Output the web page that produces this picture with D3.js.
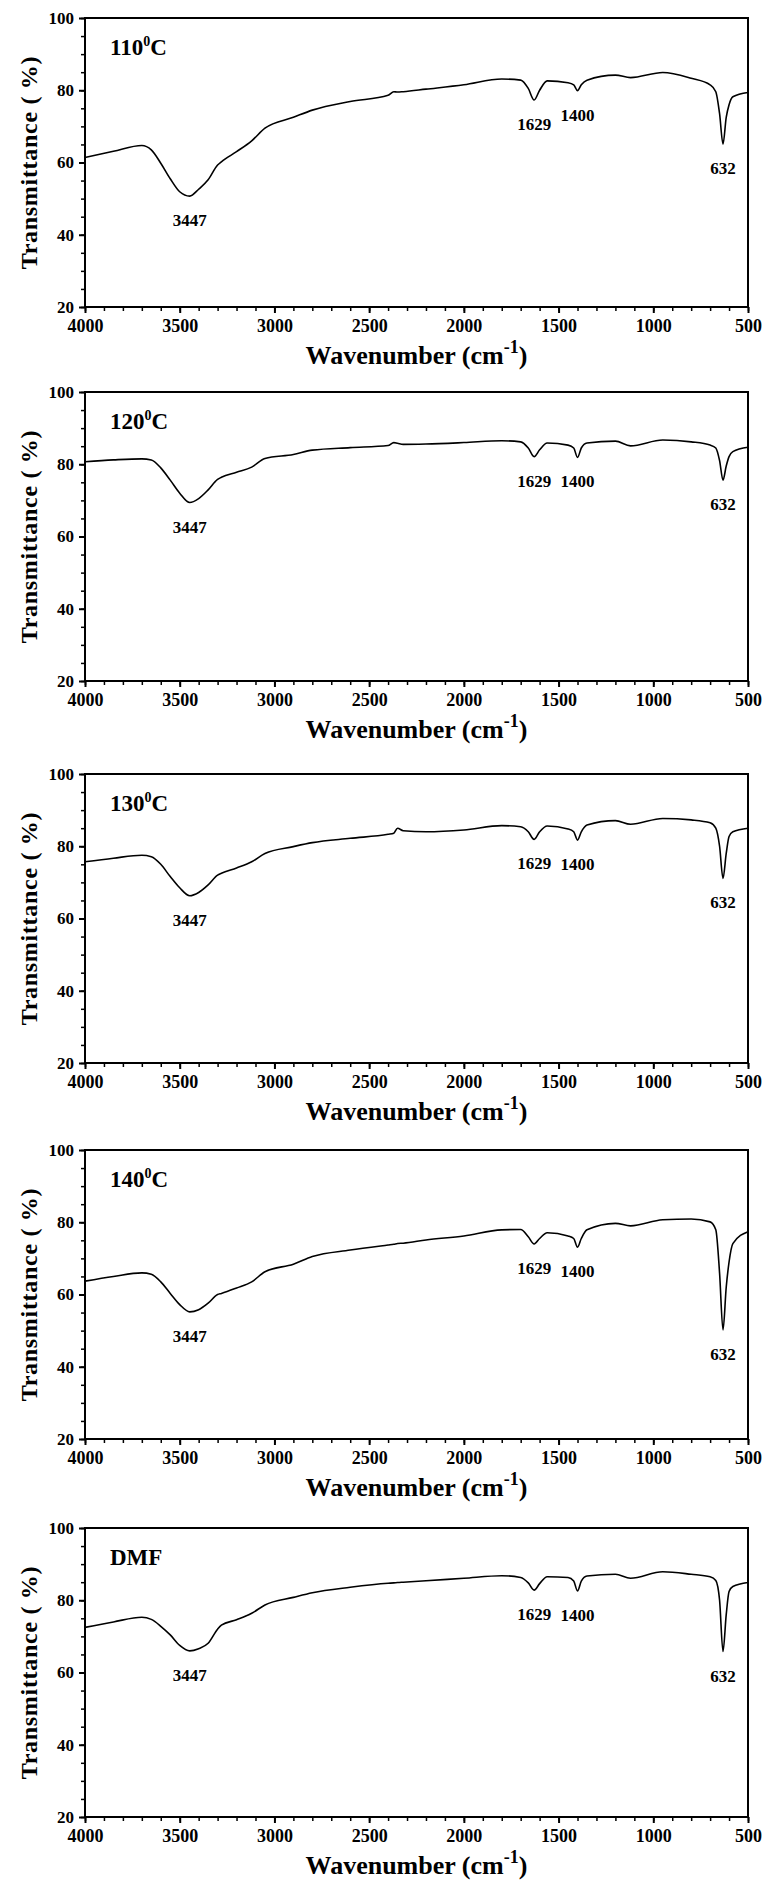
<!DOCTYPE html>
<html>
<head>
<meta charset="utf-8">
<script src="https://cdn.jsdelivr.net/npm/d3@7"></script>
<style>
  body { margin: 0; background: #fff; }
  svg { display: block; }
  text { font-family: "Liberation Serif", "Times New Roman", serif; font-weight: bold; fill: #000; }
</style>
</head>
<body>
<script>
// sample names, one per panel
var panelNames = ["110", "120", "130", "140", "DMF"];

// wavenumber grid (cm-1) the spectra were read at
var wavenumbers = [4000, 3850, 3700, 3650, 3600, 3550, 3500, 3447, 3400, 3350, 3300, 3280, 3200, 3120, 3050,
  2900, 2800, 2600, 2400, 2370, 2350, 2320, 2200, 2000, 1800, 1700, 1660, 1629, 1600, 1560, 1450, 1420,
  1400, 1380, 1350, 1200, 1120, 950, 800, 700, 670, 650, 632, 615, 600, 580, 500];

// transmittance (%) for each sample
var t110 = [61.4, 63.1, 64.7, 63.5, 59.8, 55.5, 51.9, 50.7, 52.6, 55.2, 59.3, 60.2, 63, 66, 69.5,
  72.5, 74.5, 76.9, 78.6, 79.6, 79.5, 79.6, 80.3, 81.5, 83.1, 82.8, 80.5, 77.3, 80, 82.6, 82.1, 81.5,
  79.9, 81.5, 82.8, 84.2, 83.5, 84.9, 83.3, 81.5, 79.6, 73.5, 65.1, 72.5, 76, 78.2, 79.4];
var t120 = [80.7, 81.2, 81.5, 81.2, 79, 75.6, 72, 69.4, 70.5, 72.9, 75.8, 76.4, 77.8, 79.2, 81.6,
  82.7, 83.9, 84.6, 85.2, 86, 85.8, 85.5, 85.6, 86, 86.5, 86.2, 84.5, 82.1, 84, 85.9, 85.3, 84.5,
  81.9, 84.5, 85.9, 86.4, 85.1, 86.7, 86.2, 85.3, 84.5, 81, 75.6, 79.5, 82.1, 83.5, 84.7];
var t130 = [75.7, 76.7, 77.5, 77.1, 75, 71.6, 68.5, 66.3, 67.2, 69.3, 72, 72.5, 74, 75.7, 78,
  79.9, 81, 82.2, 83.3, 83.6, 85, 84.3, 84, 84.5, 85.7, 85.4, 84, 81.9, 84, 85.6, 84.8, 84,
  81.7, 84, 85.9, 87.1, 86.1, 87.7, 87.3, 86.5, 85, 80, 71.1, 78, 82.7, 84, 85];
var t140 = [63.7, 65, 66, 65.6, 63.5, 60.3, 57.2, 55.2, 55.8, 57.6, 60, 60.3, 61.8, 63.5, 66.3,
  68.4, 70.5, 72.3, 73.7, 73.9, 74.1, 74.2, 75.1, 76.2, 77.9, 78, 76, 74, 75.5, 77.1, 76.2, 75.5,
  73.1, 75.5, 77.9, 79.7, 79, 80.7, 80.9, 80.1, 77.9, 65.9, 50.2, 62, 69, 74.1, 77.4];
var tDMF = [72.5, 74, 75.3, 74.7, 72.8, 70.4, 67.5, 66, 66.6, 68.1, 72, 73.1, 74.6, 76.4, 78.7,
  80.8, 82.1, 83.6, 84.7, 84.8, 84.9, 85, 85.4, 86.1, 86.8, 86.3, 84.8, 82.8, 84.6, 86.5, 86.3, 85.3,
  82.6, 85.3, 86.7, 87.2, 86.1, 87.9, 87.2, 86.5, 85.5, 80, 65.8, 76, 82.4, 83.8, 84.9];
var seriesList = [t110, t120, t130, t140, tDMF];

// annotated peaks
var peaks = [3447, 1629, 1400, 632];

// axis ticks
var xTicks = [4000, 3500, 3000, 2500, 2000, 1500, 1000, 500];
var yTicks = [20, 40, 60, 80, 100];

// layout
var width = 764, height = 1885;
var plotLeft = 85, plotRight = 748, plotHeight = 289;
var panelTops = [18, 392, 774, 1150, 1528];
var serif = "Liberation Serif, Times New Roman, serif";

var svg = d3.select("body").append("svg")
    .attr("width", width)
    .attr("height", height);

var x = d3.scaleLinear().domain([4000, 500]).range([plotLeft, plotRight]);

panelNames.forEach(function(name, i) {
  var top = panelTops[i];
  var values = seriesList[i];
  var y = d3.scaleLinear().domain([20, 100]).range([top + plotHeight, top]);
  var g = svg.append("g");

  var pts = wavenumbers.map(function(w, k) { return [w, values[k]]; });

  // frame
  g.append("rect")
      .attr("x", plotLeft)
      .attr("y", top)
      .attr("width", plotRight - plotLeft)
      .attr("height", plotHeight)
      .attr("fill", "none")
      .attr("stroke", "#000")
      .attr("stroke-width", 2);

  // minor ticks
  g.append("g")
      .attr("transform", "translate(0," + (top + plotHeight) + ")")
      .call(d3.axisBottom(x).tickValues(d3.range(4000, 499, -100)).tickSize(4).tickFormat(""))
      .call(function(a) { a.select(".domain").remove(); a.selectAll("line").attr("stroke-width", 1.5); });
  g.append("g")
      .attr("transform", "translate(" + plotLeft + ",0)")
      .call(d3.axisLeft(y).tickValues(d3.range(20, 101, 5)).tickSize(4).tickFormat(""))
      .call(function(a) { a.select(".domain").remove(); a.selectAll("line").attr("stroke-width", 1.5); });

  // major ticks and labels
  var xa = g.append("g")
      .attr("transform", "translate(0," + (top + plotHeight) + ")")
      .call(d3.axisBottom(x).tickValues(xTicks).tickSize(6).tickPadding(6).tickFormat(d3.format("d")))
      .attr("font-family", serif)
      .attr("font-size", 18);
  xa.select(".domain").remove();
  xa.selectAll("line").attr("stroke-width", 2);

  var ya = g.append("g")
      .attr("transform", "translate(" + plotLeft + ",0)")
      .call(d3.axisLeft(y).tickValues(yTicks).tickSize(6).tickPadding(5))
      .attr("font-family", serif)
      .attr("font-size", 17);
  ya.select(".domain").remove();
  ya.selectAll("line").attr("stroke-width", 2);

  // spectrum
  var line = d3.line()
      .x(function(d) { return x(d[0]); })
      .y(function(d) { return y(d[1]); })
      .curve(d3.curveMonotoneX);
  g.append("path")
      .datum(pts)
      .attr("d", line)
      .attr("fill", "none")
      .attr("stroke", "#000")
      .attr("stroke-width", 1.6);

  // peak labels, placed below each band minimum
  peaks.forEach(function(p) {
    var k = wavenumbers.indexOf(p);
    g.append("text")
        .attr("x", x(p))
        .attr("y", y(values[k]) + 30)
        .attr("text-anchor", "middle")
        .attr("font-size", 17)
        .text(p);
  });

  // sample label
  var lab = g.append("text")
      .attr("x", plotLeft + 25)
      .attr("y", top + 37)
      .attr("font-size", 23);
  if (name === "DMF") {
    lab.text(name);
  } else {
    lab.append("tspan").text(name);
    lab.append("tspan").attr("font-size", 14).attr("dy", -9).text("0");
    lab.append("tspan").attr("dy", 9).text("C");
  }

  // y title
  g.append("text")
      .attr("transform", "translate(37," + (top + plotHeight / 2) + ") rotate(-90)")
      .attr("text-anchor", "middle")
      .attr("font-size", 24)
      .attr("letter-spacing", 0.7)
      .text("Transmittance ( %)");

  // x title
  var xt = g.append("text")
      .attr("x", (plotLeft + plotRight) / 2)
      .attr("y", top + plotHeight + 57)
      .attr("text-anchor", "middle")
      .attr("font-size", 26);
  xt.append("tspan").text("Wavenumber (cm");
  xt.append("tspan").attr("font-size", 18).attr("dy", -11).text("-1");
  xt.append("tspan").attr("dy", 11).text(")");
});
</script>
</body>
</html>
